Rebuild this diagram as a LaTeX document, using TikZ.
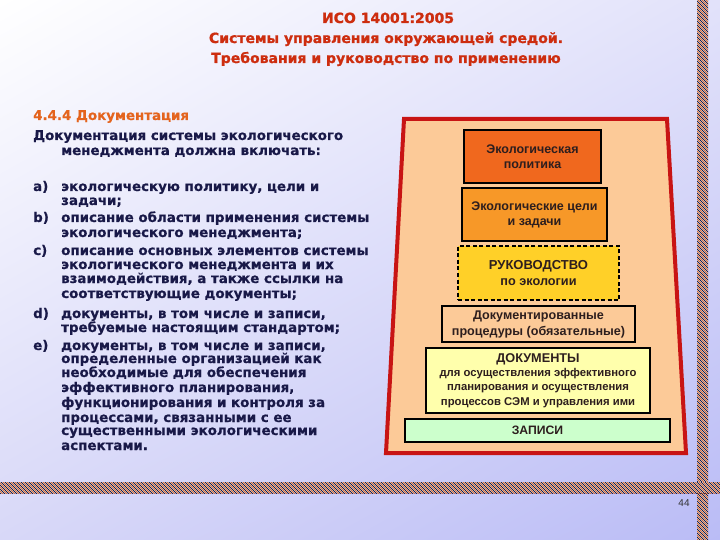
\documentclass[tikz,border=0pt]{standalone}
\usepackage{fontspec}
\usetikzlibrary{shadings}
\newfontfamily\dvb{DejaVu Sans}
\newfontfamily\dvbh{DejaVu Sans Bold}[FakeBold=1.2]
\newfontfamily\dvbm{DejaVu Sans Bold}[FakeBold=0.5]
\newfontfamily\lsb{Liberation Sans}
\definecolor{titlered}{RGB}{205,45,15}
\definecolor{hdrorange}{RGB}{228,100,30}
\definecolor{bodynavy}{RGB}{25,25,72}
\definecolor{boxtext}{RGB}{45,30,30}
\definecolor{trapred}{RGB}{200,20,20}
\definecolor{peach}{RGB}{252,202,152}
\definecolor{c1}{RGB}{240,104,30}
\definecolor{c2}{RGB}{247,152,40}
\definecolor{c3}{RGB}{255,208,40}
\definecolor{c5}{RGB}{255,255,172}
\definecolor{c6}{RGB}{204,255,204}
\definecolor{hnavy}{RGB}{30,30,70}
\definecolor{horange}{RGB}{215,110,60}
\definecolor{bgA}{RGB}{255,255,255}
\definecolor{bgB}{RGB}{226,226,250}
\definecolor{bgC}{RGB}{216,216,248}
\definecolor{bgD}{RGB}{186,188,246}
\tikzset{
  ttl/.style={inner sep=0, anchor=base, text=titlered, font=\dvbh\fontsize{14}{16}\selectfont},
  body/.style={inner sep=0, anchor=base west, text=bodynavy, font=\dvbm\fontsize{13.4}{15}\selectfont},
  dbox/.style={draw=black, line width=2.5pt, inner sep=0, text=boxtext, align=center, font=\lsb\bfseries\fontsize{12.5}{15}\selectfont},
}
\begin{document}
\begin{tikzpicture}[x=1pt,y=-1pt]
\useasboundingbox (0,0) rectangle (720,540);
\shade[upper left=bgA, upper right=bgB, lower left=bgC, lower right=bgD] (0,0) rectangle (720,540);
% title
\node[ttl] (t1) at (388,23) {ИСО 14001:2005};
\node[ttl] (t2) at (386,43) {Системы управления окружающей средой.};
\node[ttl] (t3) at (386,63) {Требования и руководство по применению};
% left text
\node[body, text=hdrorange] (h1) at (33,120) {4.4.4 Документация};
\node[body] (h2) at (33,140) {Документация системы экологического};
\node[body] (h3) at (61,155) {менеджмента должна включать:};
\node[body] (la) at (33,191) {a)};
\node[body] (lb) at (33,222) {b)};
\node[body] (lc) at (33,255) {c)};
\node[body] (ld) at (33,318) {d)};
\node[body] (le) at (33,350) {e)};
\foreach \y/\t [count=\i] in {
 191/{экологическую политику, цели и},
 205/{задачи;},
 222/{описание области применения системы},
 237/{экологического менеджмента;},
 255/{описание основных элементов системы},
 269/{экологического менеджмента и их},
 283/{взаимодействия, а также ссылки на},
 298/{соответствующие документы;},
 318/{документы, в том числе и записи,},
 332/{требуемые настоящим стандартом;},
 350/{документы, в том числе и записи,},
 363/{определенные организацией как},
 377/{необходимые для обеспечения},
 392/{эффективного планирования,},
 407/{функционирования и контроля за},
 422/{процессами, связанными с ее},
 435/{существенными экологическими},
 450/{аспектами.}}
 {\node[body] (bl\i) at (61,\y) {\t};}
% trapezoid
\draw[trapred, line width=4pt, line join=miter, fill=peach] (404,119) -- (667,119) -- (686,453) -- (386,453) -- cycle;
% boxes
\node[dbox, fill=c1, minimum width=137pt, minimum height=53pt] (b1) at (532.5,156.5) {Экологическая\\политика};
\node[dbox, fill=c2, minimum width=145pt, minimum height=53pt] (b2) at (534.5,214.5) {Экологические цели\\и задачи};
\node[dbox, fill=c3, dash pattern=on 4pt off 2.5pt, minimum width=161pt, minimum height=54pt, font=\lsb\bfseries\fontsize{12.7}{16}\selectfont] (b3) at (538.5,273) {{\fontsize{13}{16}\selectfont РУКОВОДСТВО}\\по экологии};
\node[dbox, fill=peach, minimum width=193pt, minimum height=36pt, font=\lsb\bfseries\fontsize{12.6}{16}\selectfont] (b4) at (538.5,324) {Документированные\\процедуры (обязательные)};
\node[dbox, fill=c5, minimum width=224pt, minimum height=65pt, font=\lsb\bfseries\fontsize{11.3}{14.3}\selectfont] (b5) at (538,380.5) {{\fontsize{12.7}{14}\selectfont ДОКУМЕНТЫ}\\для осуществления эффективного\\планирования и осуществления\\процессов СЭМ и управления ими};
\node[dbox, fill=c6, minimum width=265pt, minimum height=23pt, font=\lsb\bfseries\fontsize{12.2}{14}\selectfont] (b6) at (537.5,430.5) {ЗАПИСИ};
% hatched bands
\begin{scope}
\clip (697,0) rectangle (708,540);
\fill[white] (697,0) rectangle (708,540);
\foreach \k in {-16,-12,...,548} {
  \draw[hnavy, line width=1pt] (696,\k) -- (710,\k+14);
  \draw[horange, line width=0.9pt] (696,\k+2) -- (710,\k+16);
}
\end{scope}
\begin{scope}
\clip (0,482) rectangle (720,493);
\fill[white] (0,482) rectangle (720,493);
\foreach \k in {-16,-12,...,728} {
  \draw[hnavy, line width=1pt] (\k,481) -- (\k+13,494);
  \draw[horange, line width=0.9pt] (\k+2,481) -- (\k+15,494);
}
\end{scope}
\node[inner sep=0, anchor=base, font=\lsb\fontsize{10}{12}\selectfont, text=black!80] (pg) at (684,506) {44};
\end{tikzpicture}
\end{document}
